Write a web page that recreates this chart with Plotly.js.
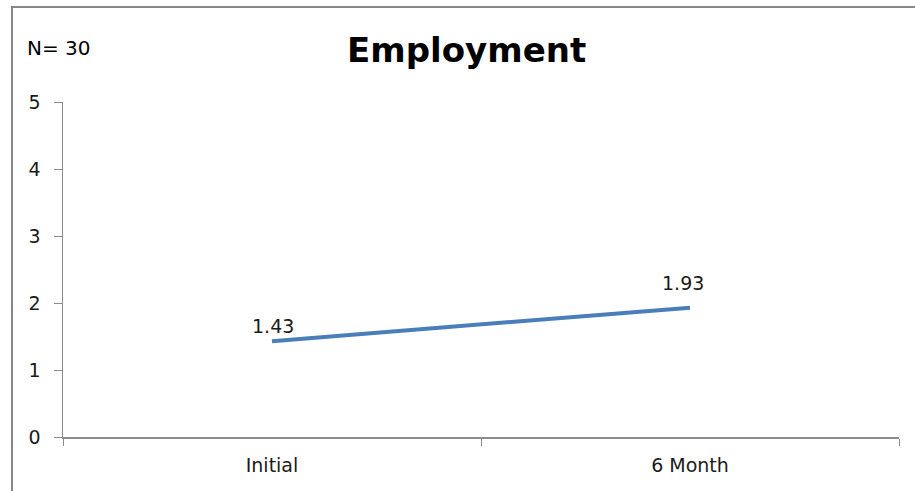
<!DOCTYPE html>
<html>
<head>
<meta charset="utf-8">
<script src="https://cdn.plot.ly/plotly-3.0.1.min.js"></script>
<style>
html,body{margin:0;padding:0;background:#fff;}
#wrap{position:relative;width:915px;height:491px;}
#chart{width:915px;height:491px;}
#frame{position:absolute;left:11px;top:6px;width:904px;height:485px;border-left:2px solid #878787;border-top:2px solid #878787;pointer-events:none;box-sizing:border-box;}
</style>
</head>
<body>
<div id="wrap">
<div id="chart"></div>
<div id="frame"></div>
</div>
<script>
const categories = ["Initial", "6 Month"];
const values = [1.43, 1.93];
const valueLabels = ["1.43", "1.93"];
const yTicks = [0, 1, 2, 3, 4, 5];

// label placement offsets (style, not data)
const labelShiftX = [1, -7];
const labelShiftY = [15, 25];

const font = "DejaVu Sans, Verdana, sans-serif";

const trace = {
  type: "scatter",
  mode: "lines",
  x: categories,
  y: values,
  line: {color: "#4a7ebb", width: 4},
  hoverinfo: "none"
};

const labelAnnotations = categories.map((c, i) => ({
  x: c, y: values[i],
  xref: "x", yref: "y",
  text: valueLabels[i],
  showarrow: false,
  xanchor: "center", yanchor: "middle",
  xshift: labelShiftX[i], yshift: labelShiftY[i],
  font: {family: font, size: 19, color: "#1a1a1a"}
}));

const layout = {
  width: 915,
  height: 491,
  margin: {l: 63, r: 16, t: 102, b: 54},
  paper_bgcolor: "#fff",
  plot_bgcolor: "#fff",
  showlegend: false,
  title: {
    text: "<b>Employment</b>",
    font: {family: font, size: 34, color: "#000"},
    x: 0.51, xanchor: "center",
    y: 0.898, yanchor: "middle"
  },
  xaxis: {
    type: "category",
    range: [-0.5, 1.5],
    tickson: "boundaries",
    ticks: "outside",
    ticklen: 7,
    tickcolor: "#8c8c8c",
    showline: true,
    linecolor: "#8c8c8c",
    linewidth: 1.5,
    showgrid: false,
    zeroline: false,
    ticklabelstandoff: 11,
    tickfont: {family: font, size: 19, color: "#1a1a1a"},
    fixedrange: true
  },
  yaxis: {
    range: [0, 5],
    tickvals: yTicks,
    ticks: "outside",
    ticklen: 8,
    tickcolor: "#8c8c8c",
    showline: true,
    linecolor: "#8c8c8c",
    linewidth: 1.5,
    showgrid: false,
    zeroline: false,
    ticklabelstandoff: 9,
    tickfont: {family: font, size: 19, color: "#1a1a1a"},
    fixedrange: true
  },
  annotations: [{
    text: "N= 30",
    xref: "paper", yref: "paper",
    x: -0.045, y: 1.162,
    xanchor: "left", yanchor: "middle",
    showarrow: false,
    font: {family: font, size: 20, color: "#000"}
  }].concat(labelAnnotations)
};

Plotly.newPlot("chart", [trace], layout, {displayModeBar: false, staticPlot: true});
</script>
</body>
</html>
